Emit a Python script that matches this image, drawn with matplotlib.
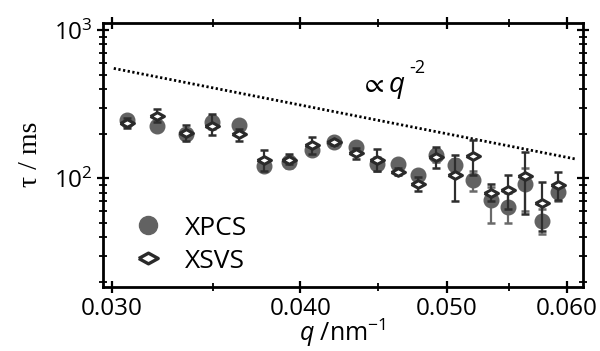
import numpy as np
import matplotlib
matplotlib.use('Agg')
import matplotlib.pyplot as plt
from matplotlib.ticker import FixedLocator, NullFormatter, LogLocator
from matplotlib.lines import Line2D

plt.rcParams['font.family'] = ['Open Sans', 'DejaVu Sans']
plt.rcParams['mathtext.fontset'] = 'custom'
plt.rcParams['mathtext.rm'] = 'Open Sans'
plt.rcParams['mathtext.it'] = 'Open Sans:italic'
plt.rcParams['mathtext.fallback'] = 'stix'

# données
q = [0.03072, 0.03213, 0.03358, 0.03497, 0.03642, 0.03782, 0.03929, 0.04071,
     0.04209, 0.04352, 0.04498, 0.04638, 0.04781, 0.04920, 0.05064, 0.05203,
     0.05344, 0.05487, 0.05635, 0.05779, 0.05923]

tau_xpcs = [247, 225, 198, 240, 228, 122, 129, 156, 176, 162, 126, 126, 106,
            144, 123, 97, 71, 64, 92, 52, 81]
xpcs_lo = [225, 210, 185, 215, 205, 112, 118, 143, 168, 150, 112, 116, 98,
           130, 110, 82, 50, 50, 60, 42, 70]
xpcs_hi = [265, 240, 212, 262, 248, 133, 140, 170, 184, 172, 140, 136, 114,
           158, 136, 112, 88, 80, 118, 62, 92]

tau_xsvs = [237, 265, 204, 226, 198, 134, 134, 167, 175, 148, 134, 111, 92,
            140, 106, 141, 80, 83, 104, 68, 91]
xsvs_lo = [220, 240, 180, 195, 178, 112, 125, 145, 168, 136, 112, 105, 82,
           118, 70, 105, 70, 62, 58, 44, 72]
xsvs_hi = [255, 296, 228, 272, 214, 156, 145, 190, 183, 160, 157, 117, 102,
           163, 143, 183, 92, 106, 150, 95, 111]

# droite guide tau ~ q^-2
q_line = [0.0301, 0.0608]
prefactor = 0.5

xticks = [0.030, 0.040, 0.050, 0.060]
xtick_labels = ['0.030', '0.040', '0.050', '0.060']
xminor = [0.035, 0.045, 0.055]

q = np.array(q)
tau_xpcs = np.array(tau_xpcs)
tau_xsvs = np.array(tau_xsvs)
err_xpcs = [tau_xpcs - np.array(xpcs_lo), np.array(xpcs_hi) - tau_xpcs]
err_xsvs = [tau_xsvs - np.array(xsvs_lo), np.array(xsvs_hi) - tau_xsvs]

fig = plt.figure(figsize=(6.0, 3.51), dpi=100)
ax = fig.add_axes([0.172, 0.183, 0.799, 0.752])

diamond = [(-1, 0), (0, 0.55), (1, 0), (0, -0.55), (-1, 0)]

ax.errorbar(q, tau_xpcs, yerr=err_xpcs, fmt='o', color='#626262', ms=10.5,
            ecolor='#6a6a6a', elinewidth=1.6, capsize=3, capthick=1.8,
            zorder=2)
ax.errorbar(q, tau_xsvs, yerr=err_xsvs, fmt='none', ecolor='#2e2e2e',
            elinewidth=1.6, capsize=3, capthick=1.8, zorder=3)
ax.plot(q, tau_xsvs, ls='none', marker=diamond, ms=10, mfc='white',
        mec='#2a2a2a', mew=2.2, zorder=4)

ql = np.array(q_line)
ax.plot(ql, prefactor * ql ** -2, color='black', lw=2.0, ls=(0, (0.8, 0.9)),
        zorder=1)
ax.text(0.0438, 385, r'$\propto q$', fontsize=20)
ax.text(0.0472, 510, '-2', fontsize=13)

ax.set_xscale('log')
ax.set_yscale('log')
ax.set_xlim(0.02962, 0.06148)
ax.set_ylim(18.6, 1120)

ax.xaxis.set_major_locator(FixedLocator(xticks))
ax.set_xticklabels(xtick_labels)
ax.xaxis.set_minor_locator(FixedLocator(xminor))
ax.xaxis.set_minor_formatter(NullFormatter())
ax.yaxis.set_major_locator(FixedLocator([100, 1000]))
ax.set_yticklabels([r'$10^{2}$', r'$10^{3}$'])
ax.yaxis.set_minor_locator(LogLocator(base=10, subs=np.arange(2, 10)))
ax.yaxis.set_minor_formatter(NullFormatter())

ax.tick_params(which='both', direction='inout', top=True, right=True,
               labelsize=17.5, width=1.6, pad=3)
ax.tick_params(which='major', length=9)
ax.tick_params(which='minor', length=6, width=1.3)
for s in ax.spines.values():
    s.set_linewidth(2.0)

ax.set_xlabel(r'$q$ /nm$^{-1}$', fontsize=18, labelpad=-3)
ax.set_ylabel('τ / ms', fontsize=20, family='Liberation Serif', labelpad=8)

h_xpcs = Line2D([], [], ls='none', marker='o', ms=13, color='#626262')
h_xsvs = Line2D([], [], ls='none', marker=diamond, ms=14, mfc='white',
                mec='#2a2a2a', mew=2.4)
ax.legend([h_xpcs, h_xsvs], ['XPCS', 'XSVS'], loc='lower left',
          bbox_to_anchor=(0.0, -0.04), frameon=False, fontsize=19,
          handletextpad=0.6, labelspacing=0.3, handlelength=1.6)

fig.savefig('out.png', dpi=100)
